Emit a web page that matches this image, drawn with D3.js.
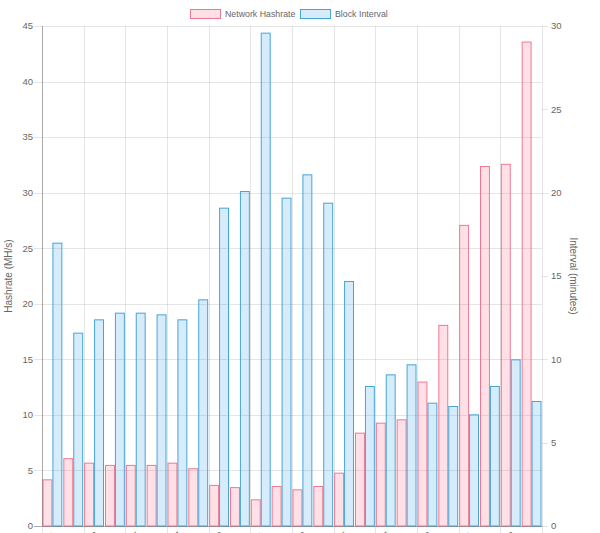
<!DOCTYPE html>
<html><head><meta charset="utf-8">
<script src="https://cdn.jsdelivr.net/npm/d3@7"></script>
<style>body{margin:0;background:#fff}svg{display:block}text{font-family:"Liberation Sans",Arial,Helvetica,sans-serif}</style>
</head><body><div id="chart"></div>
<script>
const categories = ["P1","P2","P3","P4","P5","P6","P7","P8","P9","P10","P11","P12","P13","P14","P15","P16","P17","P18","P19","P20","P21","P22","P23","P24"];
const hashrate = [4.2,6.1,5.7,5.5,5.5,5.5,5.7,5.2,3.7,3.5,2.4,3.6,3.3,3.6,4.8,8.4,9.3,9.6,13.0,18.1,27.1,32.4,32.6,43.6];
const interval = [17.0,11.6,12.4,12.8,12.8,12.7,12.4,13.6,19.1,20.1,29.6,19.7,21.1,19.4,14.7,8.4,9.1,9.7,7.4,7.2,6.7,8.4,10.0,7.5];
const leftTicks = [0,5,10,15,20,25,30,35,40,45];
const rightTicks = [0,5,10,15,20,25,30];
const seriesNames = ["Network Hashrate","Block Interval"];
const fills = ["rgba(255,99,132,0.2)","rgba(54,162,235,0.2)"];
const strokes = ["rgb(240,120,145)","rgb(70,165,215)"];

const W=600,H=533;
const m={left:42,right:58,top:26,bottom:7};
const svg=d3.select("#chart").append("svg").attr("width",W).attr("height",H);
const x=d3.scaleBand().domain(categories).range([m.left,W-m.right]).paddingInner(0).paddingOuter(0);
const yL=d3.scaleLinear().domain([0,45]).range([H-m.bottom,m.top]);
const yR=d3.scaleLinear().domain([0,30]).range([H-m.bottom,m.top]);
const x1=d3.scaleBand().domain([0,1]).range([0,x.bandwidth()]).paddingInner(0).paddingOuter(0.05);

const grid="rgba(0,0,0,0.1)";
svg.append("g").selectAll("line").data(leftTicks).join("line")
 .attr("x1",m.left-8).attr("x2",W-m.right).attr("y1",d=>Math.round(yL(d))+0.5).attr("y2",d=>Math.round(yL(d))+0.5)
 .attr("stroke",grid);
const shown=categories.filter((c,i)=>i%2===0);
svg.append("g").selectAll("line").data(shown).join("line")
 .attr("x1",d=>Math.round(x(d))+0.5).attr("x2",d=>Math.round(x(d))+0.5).attr("y1",m.top).attr("y2",H-m.bottom+8)
 .attr("stroke",grid);
svg.append("line").attr("x1",W-m.right+0.5).attr("x2",W-m.right+0.5).attr("y1",m.top).attr("y2",H-m.bottom+8).attr("stroke",grid);
svg.append("g").selectAll("line").data(rightTicks).join("line")
 .attr("x1",W-m.right).attr("x2",W-m.right+6).attr("y1",d=>Math.round(yR(d))+0.5).attr("y2",d=>Math.round(yR(d))+0.5).attr("stroke",grid);

const data=[hashrate,interval];
const ys=[yL,yR];
data.forEach((arr,s)=>{
  svg.append("g").selectAll("rect").data(arr).join("rect")
   .attr("x",(d,i)=>x(categories[i])+x1(s)+0.5)
   .attr("width",x1.bandwidth()-1)
   .attr("y",d=>ys[s](d)+0.5)
   .attr("height",d=>ys[s](0)-ys[s](d)-0.5)
   .attr("fill",fills[s]).attr("stroke",strokes[s]).attr("stroke-width",1);
});

svg.append("line").attr("x1",m.left+0.5).attr("x2",m.left+0.5).attr("y1",m.top).attr("y2",H-m.bottom).attr("stroke","rgba(0,0,0,0.25)");
svg.append("line").attr("x1",m.left-8).attr("x2",W-m.right).attr("y1",H-m.bottom+0.5).attr("y2",H-m.bottom+0.5).attr("stroke","rgba(0,0,0,0.25)");

svg.append("g").selectAll("text").data(leftTicks).join("text")
 .attr("x",m.left-9).attr("y",d=>yL(d)).attr("dy","0.35em").attr("text-anchor","end")
 .attr("font-size",9.5).attr("fill","#666").text(d=>d);
svg.append("g").selectAll("text").data(rightTicks).join("text")
 .attr("x",W-m.right+9).attr("y",d=>yR(d)).attr("dy","0.35em").attr("text-anchor","start")
 .attr("font-size",9.5).attr("fill","#666").text(d=>d);
svg.append("g").selectAll("text").data(shown).join("text")
 .attr("transform",d=>`translate(${x(d)+x.bandwidth()/2},${H-m.bottom+5}) rotate(-50)`)
 .attr("text-anchor","end").attr("dy","0.7em").attr("font-size",9.5).attr("fill","#666").text(d=>d);

svg.append("text").attr("transform",`translate(12,${(m.top+H-m.bottom)/2}) rotate(-90)`)
 .attr("text-anchor","middle").attr("font-size",10).attr("fill","#666").text("Hashrate (MH/s)");
svg.append("text").attr("transform",`translate(570,${(m.top+H-m.bottom)/2}) rotate(90)`)
 .attr("text-anchor","middle").attr("font-size",10).attr("fill","#666").text("Interval (minutes)");

const leg=svg.append("g");
const lx=[190,300];
seriesNames.forEach((n,i)=>{
  leg.append("rect").attr("x",lx[i]+0.5).attr("y",9.5).attr("width",30).attr("height",9)
   .attr("fill",fills[i]).attr("stroke",strokes[i]);
  leg.append("text").attr("x",lx[i]+35).attr("y",14).attr("dy","0.35em").attr("font-size",8.8).attr("fill","#666").text(n);
});
</script></body></html>
